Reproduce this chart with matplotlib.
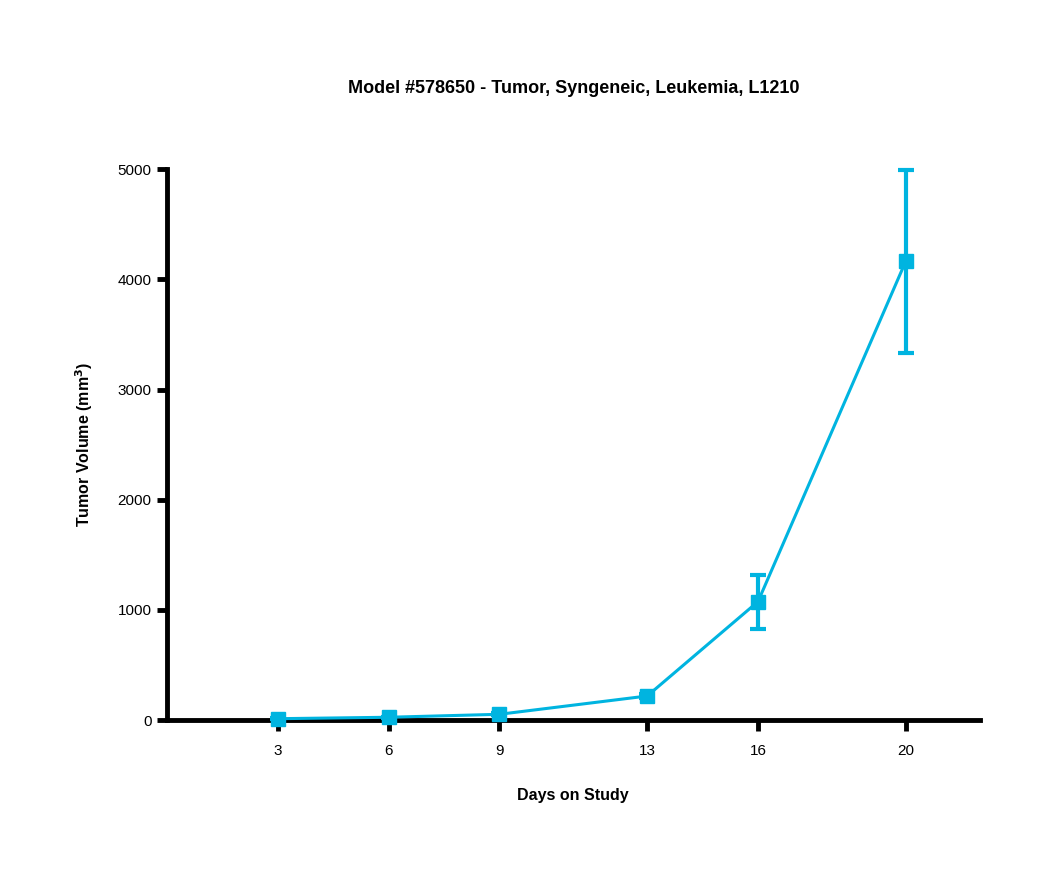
import matplotlib
matplotlib.use('Agg')
import matplotlib.pyplot as plt

days = [3, 6, 9, 13, 16, 20]
volume = [12, 25, 52, 218, 1075, 4165]
sem = [3, 5, 8, 15, 245, 830]

plt.rcParams['font.family'] = ['Liberation Sans', 'DejaVu Sans']

fig = plt.figure(figsize=(10.5, 8.77), dpi=100)
ax = fig.add_axes([0.159, 0.179, 0.774, 0.628])

color = '#00B4E0'
ax.errorbar(days, volume, yerr=sem, color=color, linewidth=2.2,
            marker='s', markersize=10, elinewidth=3, capsize=6, capthick=3,
            clip_on=False, zorder=3)

ax.set_xlim(0, 22)
ax.set_ylim(0, 5000)
ax.set_xticks(days)
ax.set_yticks([0, 1000, 2000, 3000, 4000, 5000])

for s in ['top', 'right']:
    ax.spines[s].set_visible(False)
for s in ['left', 'bottom']:
    ax.spines[s].set_linewidth(3.5)
ax.tick_params(width=3.5, labelsize=11)
ax.tick_params(axis='x', length=8, pad=9)
ax.tick_params(axis='y', length=7, pad=4)

ax.set_title('Model #578650 - Tumor, Syngeneic, Leukemia, L1210',
             fontsize=13, fontweight='bold', pad=55)
ax.set_xlabel('Days on Study', fontsize=11.5, fontweight='bold', labelpad=22)
ax.set_ylabel('Tumor Volume (mm$^\\mathbf{3}$)', fontsize=11.5, fontweight='bold', labelpad=16)

fig.savefig('out.png', dpi=100)
